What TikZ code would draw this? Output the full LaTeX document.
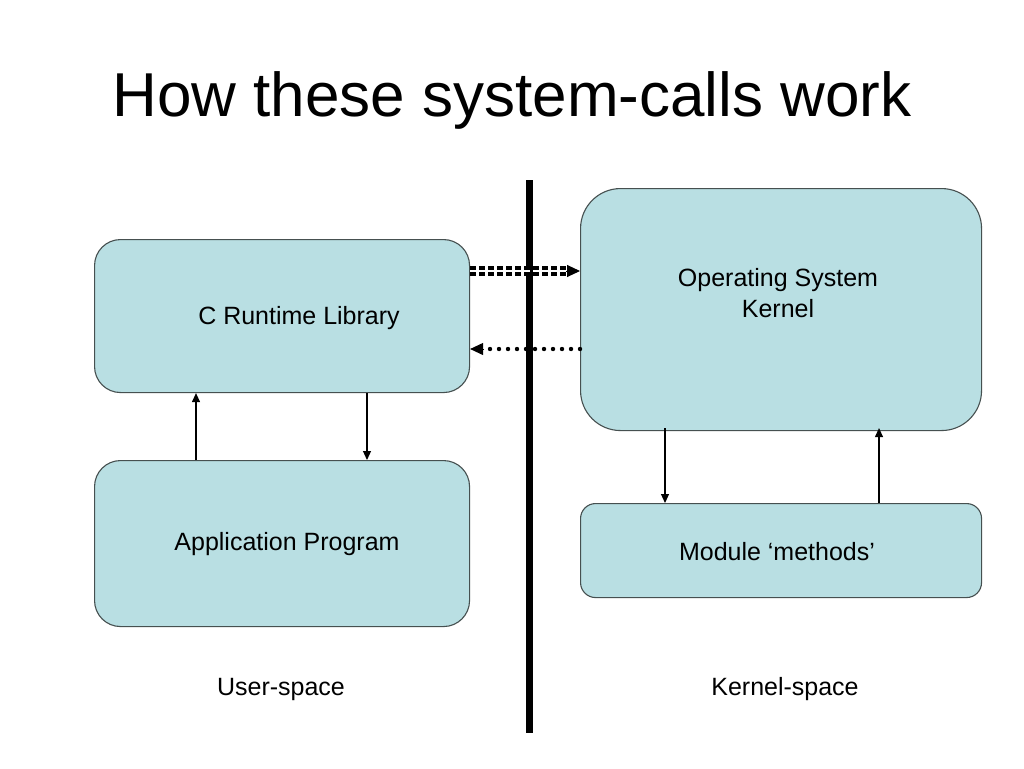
\documentclass[tikz,border=0pt]{standalone}
\usepackage{fontspec}
\setmainfont{Liberation Sans}
\usetikzlibrary{arrows.meta,calc}
\definecolor{boxfill}{RGB}{185,223,227}
\definecolor{boxline}{RGB}{70,80,80}
\begin{document}
\begin{tikzpicture}[x=1pt,y=-1pt,
  box/.style={draw=boxline,fill=boxfill,line width=1.1pt,inner sep=0pt,anchor=north west},
  lbl/.style={font=\fontsize{25}{30}\selectfont,align=center,inner sep=0pt},
  conn/.style={line width=1.1pt,-{Triangle[length=9,width=8]}},
  dotline/.style={line width=4.4pt,line cap=round,dash pattern=on 0pt off 9pt},
  dbl/.style={line width=4.2pt,double=white,double distance=2.2pt,dash pattern=on 6pt off 3pt}]
\useasboundingbox (0,0) rectangle (1024,768);
\fill[white] (0,0) rectangle (1024,768);
\node[font=\fontsize{62}{70}\selectfont,inner sep=0pt] (title) at (512,100) {How these system-calls work};
% boxes
\node[box,rounded corners=26pt,minimum width=375pt,minimum height=153pt] (crl) at (94,239) {};
\node[box,rounded corners=26pt,minimum width=375pt,minimum height=166pt] (app) at (94,460) {};
\node[box,rounded corners=40pt,minimum width=401pt,minimum height=242pt] (os) at (580,188) {};
\node[box,rounded corners=15pt,minimum width=401pt,minimum height=94pt] (mod) at (580,503) {};
% labels
\node[lbl] (crlt) at (299,318) {C Runtime Library};
\node[lbl] (appt) at (287,544) {Application Program};
\node[lbl] (ost) at (778,293) {Operating System\\[0.1ex]Kernel};
\node[lbl] (modt) at (777,552) {Module ‘methods’};
\node[lbl] (us) at (281,689) {User-space};
\node[lbl] (ks) at (785,689) {Kernel-space};
% divider
\coordinate (bartop) at (529,180);
\coordinate (barbot) at (529,733);
\draw[line width=7pt] (bartop) -- (barbot);
% vertical arrows
\draw[conn] ($(app.north west)+(102,0)$) -- ($(crl.south west)+(102,0)$);
\draw[conn] ($(crl.south west)+(273,0)$) -- ($(app.north west)+(273,0)$);
\draw[conn] ($(os.south west)+(85,-3)$) -- ($(mod.north west)+(85,0)$);
\draw[conn] ($(mod.north west)+(299,0)$) -- ($(os.south west)+(299,-3)$);
% double dashed call arrow
\coordinate (c1) at ($(crl.north east)+(0,32)$);
\coordinate (c2) at ($(os.north west)+(-14,83)$);
\coordinate (c3) at ($(os.north west)+(0,83)$);
\draw[dbl] (c1) -- (c2);
\draw[line width=1pt,-{Triangle[length=13,width=12]}] (c2) -- (c3);
% dotted return arrow
\coordinate (r1) at ($(os.north west)+(0,161)$);
\coordinate (r2) at ($(crl.north east)+(14,110)$);
\coordinate (r3) at ($(crl.north east)+(0,110)$);
\draw[dotline] (r1) -- (r2);
\draw[line width=1pt,-{Triangle[length=13,width=12]}] (r2) -- (r3);
\end{tikzpicture}
\end{document}
